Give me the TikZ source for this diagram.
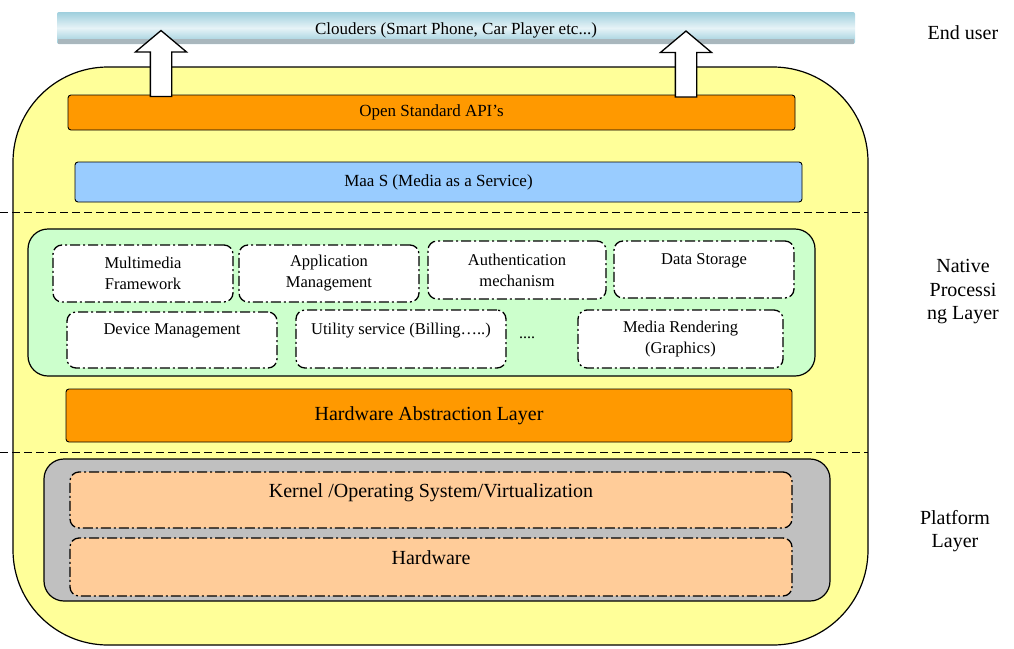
\documentclass[tikz,border=0pt]{standalone}
\usepackage{fontspec}
\setmainfont{Liberation Serif}
\usepackage{tikz}
\usetikzlibrary{shapes,shapes.arrows,calc,positioning}
\definecolor{shellyellow}{HTML}{FFFF99}
\definecolor{apiorange}{HTML}{FF9900}
\definecolor{maasblue}{HTML}{99CCFF}
\definecolor{nativegreen}{HTML}{CCFFCC}
\definecolor{platgray}{HTML}{C0C0C0}
\definecolor{kernpeach}{HTML}{FFCC99}
\definecolor{cloudtop}{HTML}{9FCFDD}
\definecolor{cloudmid}{HTML}{E6F3F7}
\definecolor{cloudbot}{HTML}{96CAD9}
\definecolor{cloudedge}{HTML}{A9B7BD}
\tikzset{
  bar/.style={rectangle, draw, rounded corners=3pt, line width=0.9pt, inner sep=0pt, font=\fontsize{17}{21}\selectfont},
  bigbar/.style={bar, font=\fontsize{20}{24}\selectfont},
  svcbox/.style={rectangle, draw, fill=white, rounded corners=9pt, line width=1.3pt, align=center,
    dash pattern=on 10pt off 3pt on 2pt off 3pt, inner sep=0pt, font=\fontsize{16.5}{21}\selectfont},
  osbox/.style={svcbox, fill=kernpeach, font=\fontsize{20}{24}\selectfont, text depth=18pt},
  upblock/.style={single arrow, draw, fill=white, line width=1.3pt, inner xsep=0pt, inner ysep=10pt, rotate=90,
    minimum height=66pt, minimum width=50pt, single arrow head extend=15pt, single arrow tip angle=100},
  tierlbl/.style={align=center, font=\fontsize{20}{23.5}\selectfont},
  sepline/.style={dashed, dash pattern=on 8pt off 4pt, line width=0.9pt}
}
\begin{document}
\begin{tikzpicture}[x=1pt,y=-1pt]
	\useasboundingbox (0,0) rectangle (1014,648);
	% outer shell
	\node[draw, fill=shellyellow, line width=1.2pt, rounded corners=95pt, minimum width=855pt, minimum height=578pt] (shell) at (440.5,356) {};
	% end user bar
	\node[rectangle, rounded corners=2pt, top color=cloudtop, bottom color=cloudbot, middle color=cloudmid,
		minimum width=798pt, minimum height=32pt, inner sep=0pt] (clouders) at (456,28) {};
	\node[rectangle, fill=cloudedge, minimum width=796pt, minimum height=5pt, inner sep=0pt] (cloudstrip) at (456,41) {};
	\node[font=\fontsize{17}{21}\selectfont] (cloudtxt) at (456,30) {Clouders (Smart Phone, Car Player etc...)};
	% layers
	\node[bar, fill=apiorange, minimum width=727pt, minimum height=35pt] (api) at (431.5,112.5) {Open Standard API's};
	\node[bar, fill=maasblue, minimum width=727pt, minimum height=40pt] (maas) at (438.5,182) {Maa S (Media as a Service)};
	\draw[sepline] (0,212) -- (868,212);
	\node[draw, fill=nativegreen, line width=1.2pt, rounded corners=20pt, minimum width=787pt, minimum height=147pt] (native) at (421.5,302.5) {};
	\node[svcbox, minimum width=180pt, minimum height=57pt] (mmf) at (143,273.5) {Multimedia\\Framework};
	\node[svcbox, minimum width=180pt, minimum height=57pt] (appmgmt) at (329,273.5) {Application\\Management};
	\node[svcbox, minimum width=178pt, minimum height=58pt] (auth) at (517,270) {Authentication\\mechanism};
	\node[svcbox, minimum width=180pt, minimum height=57pt] (datastore) at (704,269.5) {Data Storage\\\mbox{}};
	\node[svcbox, minimum width=210pt, minimum height=56pt] (devmgmt) at (172,340) {Device Management\\\mbox{}};
	\node[svcbox, minimum width=210pt, minimum height=58pt] (utility) at (401,339) {Utility service (Billing\dots..)\\\mbox{}};
	\node[font=\fontsize{16}{20}\selectfont] (etc) at (527,338) {....};
	\node[svcbox, minimum width=205pt, minimum height=58pt] (render) at (680.5,339) {Media Rendering\\(Graphics)};
	\node[bigbar, fill=apiorange, minimum width=726pt, minimum height=53pt] (hal) at (429,415.5) {Hardware Abstraction Layer};
	\draw[sepline] (0,452) -- (868,452);
	\node[draw, fill=platgray, line width=1.2pt, rounded corners=20pt, minimum width=786pt, minimum height=142pt] (platform) at (437,530) {};
	\node[osbox, minimum width=722pt, minimum height=56pt] (kernel) at (431,500) {Kernel /Operating System/Virtualization};
	\node[osbox, minimum width=722pt, minimum height=58pt] (hw) at (431,567) {Hardware};
	% arrows up to the end user
	\node[upblock] (upleft) at (161,68) {};
	\node[upblock] (upright) at (686,68.5) {};
	% tier labels
	\node[tierlbl] (enduser) at (963,33) {End user};
	\node[tierlbl] (nativelbl) at (963,292) {Native\\Processi\\ng Layer};
	\node[tierlbl] (platlbl) at (955,531) {Platform\\Layer};
\end{tikzpicture}
\end{document}
